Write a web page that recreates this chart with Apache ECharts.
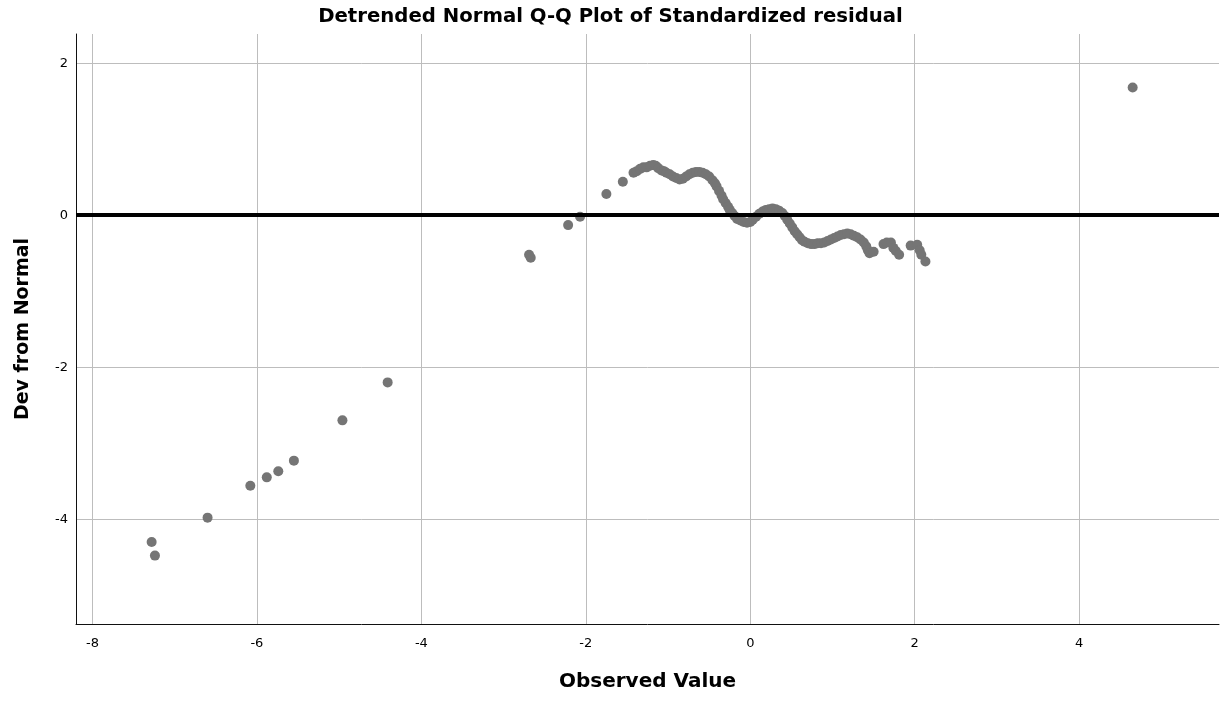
<!DOCTYPE html>
<html>
<head>
<meta charset="utf-8">
<script src="https://cdn.jsdelivr.net/npm/echarts@6/dist/echarts.min.js"></script>
<style>
html,body{margin:0;padding:0;background:#fff;}
#chart{width:1221px;height:702px;}
</style>
</head>
<body>
<div id="chart"></div>
<script>
const observed = [
  -7.28,-7.24,-6.60,-6.08,-5.88,-5.74,-5.55,-4.96,-4.41,
  -2.69,-2.67,-2.215,-2.07,-1.75,-1.55,
  -1.42,-1.38,-1.34,-1.30,-1.26,-1.22,-1.18,-1.15,-1.12,-1.08,-1.05,-1.02,-0.98,-0.94,-0.90,-0.86,-0.82,-0.78,-0.74,-0.70,-0.66,-0.62,-0.58,-0.54,-0.50,-0.46,-0.43,-0.41,-0.38,-0.35,-0.33,-0.30,-0.27,-0.25,-0.22,-0.19,-0.16,-0.12,-0.08,-0.04,
  0.00,0.03,0.07,0.11,0.15,0.19,0.23,0.27,0.31,0.35,0.39,0.42,0.45,0.48,0.51,0.54,0.57,0.60,0.63,0.66,0.70,0.74,0.78,0.82,0.86,0.90,0.94,0.98,1.02,1.06,1.10,1.14,1.18,1.22,1.26,1.30,1.34,1.38,1.41,1.43,1.45,1.50,
  1.62,1.66,1.71,1.74,1.77,1.81,1.95,2.03,2.06,2.08,2.13,
  4.65
];
const deviation = [
  -4.30,-4.48,-3.98,-3.56,-3.45,-3.37,-3.23,-2.70,-2.20,
  -0.52,-0.56,-0.13,-0.02,0.28,0.44,
  0.56,0.58,0.61,0.63,0.63,0.65,0.66,0.65,0.62,0.59,0.58,0.56,0.54,0.51,0.49,0.47,0.48,0.51,0.54,0.56,0.57,0.57,0.56,0.54,0.51,0.46,0.42,0.38,0.32,0.26,0.21,0.16,0.11,0.07,0.03,-0.01,-0.05,-0.07,-0.09,-0.10,
  -0.09,-0.06,-0.02,0.02,0.05,0.07,0.08,0.09,0.08,0.06,0.03,-0.01,-0.06,-0.11,-0.16,-0.21,-0.25,-0.29,-0.33,-0.35,-0.37,-0.38,-0.38,-0.37,-0.37,-0.36,-0.34,-0.32,-0.30,-0.28,-0.26,-0.25,-0.24,-0.25,-0.27,-0.29,-0.32,-0.36,-0.41,-0.46,-0.50,-0.48,
  -0.38,-0.36,-0.36,-0.43,-0.47,-0.52,-0.40,-0.39,-0.46,-0.52,-0.61,
  1.68
];
const xTicks = [-8,-6,-4,-2,0,2,4];
const yTicks = [-4,-2,0,2];
const xRange = [-8.2, 5.7];
const yRange = [-5.38, 2.385];

const points = observed.map((v, i) => [v, deviation[i]]);

const chart = echarts.init(document.getElementById('chart'), null, {renderer: 'canvas'});
const font = '"DejaVu Sans", Verdana, sans-serif';
chart.setOption({
  animation: false,
  backgroundColor: '#ffffff',
  title: {
    text: 'Detrended Normal Q-Q Plot of Standardized residual',
    left: 'center',
    top: 2,
    textStyle: {fontFamily: font, fontSize: 19.7, fontWeight: 'bold', color: '#000'}
  },
  grid: {left: 76, right: 2, top: 34, bottom: 78, containLabel: false},
  xAxis: {
    type: 'value',
    min: xRange[0], max: xRange[1],
    name: 'Observed Value',
    nameLocation: 'middle',
    nameGap: 48,
    nameTextStyle: {fontFamily: font, fontSize: 20, fontWeight: 'bold', color: '#000'},
    axisLine: {show: true, onZero: false, lineStyle: {color: '#111', width: 1}},
    axisTick: {show: false, customValues: xTicks},
    axisLabel: {customValues: xTicks, fontFamily: font, fontSize: 13, color: '#000', margin: 13},
    splitLine: {show: true, lineStyle: {color: '#bdbdbd', width: 1}}
  },
  yAxis: {
    type: 'value',
    min: yRange[0], max: yRange[1],
    name: 'Dev from Normal',
    nameLocation: 'middle',
    nameGap: 43,
    nameTextStyle: {fontFamily: font, fontSize: 19, fontWeight: 'bold', color: '#000'},
    axisLine: {show: true, onZero: false, lineStyle: {color: '#111', width: 1}},
    axisTick: {show: false, customValues: yTicks},
    axisLabel: {customValues: yTicks, fontFamily: font, fontSize: 13, color: '#000', margin: 8},
    splitLine: {show: true, lineStyle: {color: '#bdbdbd', width: 1}}
  },
  series: [{
    type: 'scatter',
    data: points,
    symbolSize: 10,
    itemStyle: {color: '#757575', opacity: 1},
    markLine: {
      silent: true,
      symbol: 'none',
      label: {show: false},
      lineStyle: {color: '#000', width: 4, type: 'solid'},
      data: [{yAxis: 0}]
    },
    z: 3
  }]
});
</script>
</body>
</html>
